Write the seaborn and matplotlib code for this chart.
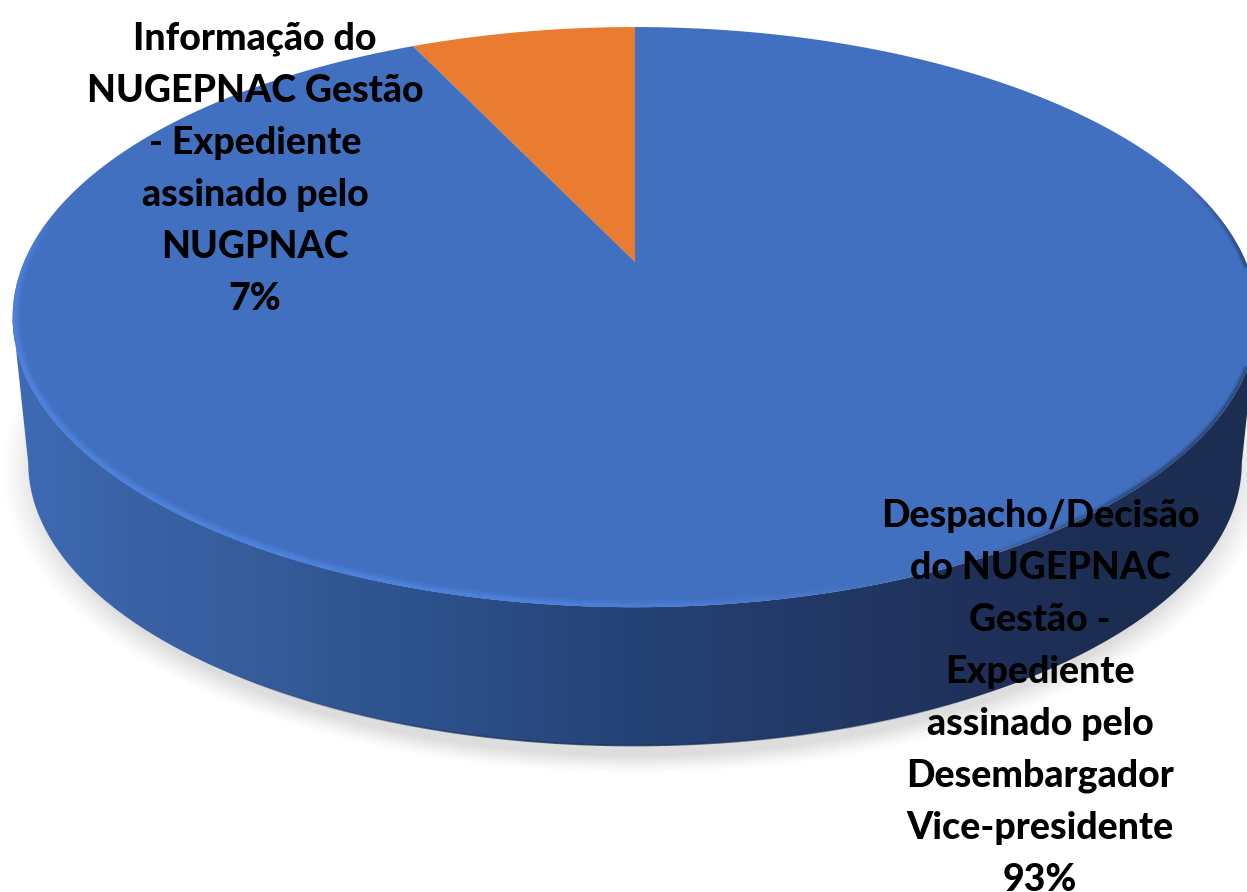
import numpy as np
import seaborn as sns
from matplotlib import pyplot as plt
from matplotlib.collections import LineCollection
from matplotlib.colors import to_rgb
from matplotlib.patches import Polygon

# data
categories = ["Informação do\nNUGEPNAC Gestão\n- Expediente\nassinado pelo\nNUGPNAC",
              "Despacho/Decisão\ndo NUGEPNAC\nGestão -\nExpediente\nassinado pelo\nDesembargador\nVice-presidente"]
values = [7, 93]
slice_colors = ["#ea7c31", "#4270c0"]

side_colors = ["#3f6cb8", "#3a63a6", "#365c9a", "#2f5590", "#2a4c84", "#254377",
               "#233c6c", "#213662", "#1e3059", "#1b2d50", "#1b2d50"]

sns.set_theme(style="white")
plt.rcParams["font.family"] = ["Lato", "DejaVu Sans"]

W, H = 1247, 892
fig = plt.figure(figsize=(W / 100, H / 100), dpi=100)
ax = fig.add_axes([0, 0, 1, 1])

# pie works out the angles, the wedges are then redrawn tilted
wedges, _ = ax.pie(values, colors=slice_colors, startangle=90)
angles = [(w.theta1, w.theta2) for w in wedges]
for w in wedges:
    w.remove()
ax.set_aspect("auto")
ax.set_xlim(0, W)
ax.set_ylim(H, 0)
ax.axis("off")

# perspective of the tilted disc
K, A, B, CX, CY = 0.19, 611, 279.6, 635, 262
BOTTOM_SCALE, BOTTOM_Y = 0.975, 409


def project(t, scale=1.0, y0=CY, r=1.0):
    x, y = r * np.cos(np.radians(t)), r * np.sin(np.radians(t))
    w = 1 + K * y
    return np.column_stack([CX + A * scale * x / w, y0 - B * scale * y / w])


# soft shadow under the pie
yy, xx = np.mgrid[0:H, 0:W]
d = np.sqrt(((xx - CX) / 634) ** 2 + ((yy - 470) / 303) ** 2)
shadow = np.zeros((H, W, 4))
shadow[..., :3] = 0.45
shadow[..., 3] = 0.24 * np.clip((1 - d) / 0.06, 0, 1) ** 1.2
ax.imshow(shadow, extent=(0, W, H, 0), aspect="auto", zorder=1)

# side wall with gradient, left to right
t_side = np.linspace(191, 349, 300)
low = project(t_side, BOTTOM_SCALE, BOTTOM_Y)
side = Polygon(np.vstack([low, project(t_side)[::-1]]), closed=True, fc="none", ec="none")
ax.add_patch(side)
cmap = sns.blend_palette(side_colors, as_cmap=True)
grad = ax.imshow(np.linspace(0, 1, W)[None, :], extent=(0, W, H, 0), aspect="auto",
                 cmap=cmap, zorder=2)
grad.set_clip_path(side)

# top face
for (t1, t2), col in zip(angles, slice_colors):
    t = np.linspace(t1, t2, 400)
    pts = np.vstack([[CX, CY], project(t)])
    ax.add_patch(Polygon(pts, closed=True, fc=col, ec="none", zorder=3))
disc = Polygon(project(np.linspace(0, 360, 800)), closed=True, fc="none", ec="none")
ax.add_patch(disc)


def rim(t1, t2, color, r, lw, alpha_func, scale=1.0, y0=CY, clip=True, z=4):
    t = np.linspace(t1, t2, 200)
    p = project(t, scale, y0, r)
    segs = np.stack([p[:-1], p[1:]], axis=1)
    rgba = np.zeros((len(segs), 4))
    rgba[:, :3] = to_rgb(color)
    rgba[:, 3] = alpha_func(np.linspace(0, 1, len(segs)))
    lc = LineCollection(segs, colors=rgba, linewidths=lw, zorder=z, capstyle="butt")
    ax.add_collection(lc)
    if clip:
        lc.set_clip_path(disc)


# light bevel on the left and front edge
fade = lambda u: np.clip(u / 0.2, 0, 1) * np.clip((1 - u) / 0.25, 0, 1)
rim(165, 292, "#4f82dd", 0.998, 9, lambda u: 0.3 * fade(u))
rim(165, 292, "#4f82dd", 0.998, 6, lambda u: 0.4 * fade(u))
rim(165, 292, "#5086e3", 0.998, 3.5, lambda u: 0.6 * fade(u))
# dark blur on the right edge
dark = lambda u: np.clip(u / 0.25, 0, 1) * np.clip((1 - u) / 0.2, 0, 1)
rim(295, 378, "#1b2d50", 1.0, 7, lambda u: 0.2 * dark(u))
rim(295, 378, "#1b2d50", 1.0, 4, lambda u: 0.4 * dark(u))
# thin dark line under the front of the wall
rim(235, 300, "#1a3058", 1.0, 1.2, lambda u: 0.8 * np.sin(np.pi * u), BOTTOM_SCALE, BOTTOM_Y, clip=False, z=2.5)

# labels
label_pos = [(255, 169), (1040, 698)]
for cat, val, (lx, ly) in zip(categories, values, label_pos):
    ax.text(lx, ly, f"{cat}\n{val}%", ha="center", va="center", fontsize=27, fontweight=900,
            color="black", linespacing=1.64, zorder=5, clip_on=False)

fig.savefig("out.png", dpi=100)
